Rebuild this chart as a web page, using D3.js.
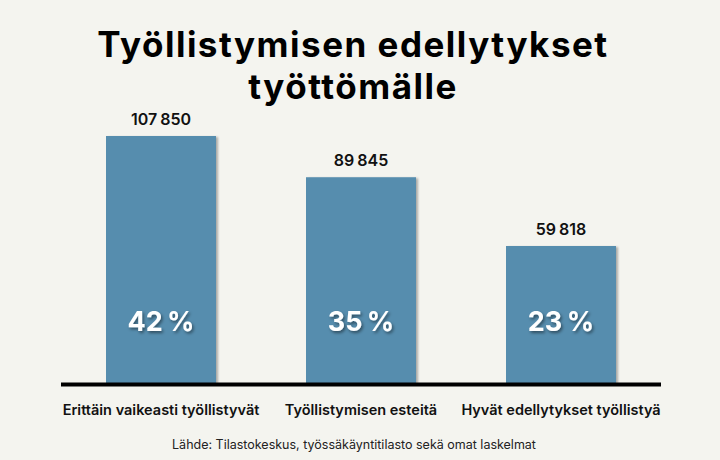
<!DOCTYPE html>
<html><head><meta charset="utf-8">
<script src="https://cdn.jsdelivr.net/npm/d3@7"></script>
<style>
html,body{margin:0;padding:0;background:#f4f4ef;}
svg{display:block;}
text{font-family:Inter,"Open Sans",sans-serif;}
</style></head>
<body><svg id="c" width="720" height="460"></svg>
<script>
const categories = ["Erittäin vaikeasti työllistyvät","Työllistymisen esteitä","Hyvät edellytykset työllistyä"];
const values = [107850, 89845, 59818];
const valueLabels = ["107 850","89 845","59 818"];
const shares = ["42 %","35 %","23 %"];
const titleLines = ["Työllistymisen edellytykset","työttömälle"];
const source = "Lähde: Tilastokeskus, työssäkäyntitilasto sekä omat laskelmat";

const svg = d3.select("#c");
const defs = svg.append("defs");
const f1 = defs.append("filter").attr("id","barShadow").attr("x","-10%").attr("y","-10%").attr("width","130%").attr("height","130%");
f1.append("feDropShadow").attr("dx",2).attr("dy",1).attr("stdDeviation",1.2).attr("flood-color","#000").attr("flood-opacity",0.3);
const f2 = defs.append("filter").attr("id","txtShadow").attr("x","-20%").attr("y","-20%").attr("width","140%").attr("height","160%");
f2.append("feDropShadow").attr("dx",1.5).attr("dy",2).attr("stdDeviation",1.5).attr("flood-color","#000").attr("flood-opacity",0.45);

const x = d3.scaleBand().domain(categories).range([61,661]).paddingInner(0.45).paddingOuter(0.225);
const y = d3.scaleLinear().domain([0,107850]).range([383,136]);

svg.selectAll("rect.bar").data(values).join("rect").attr("class","bar")
  .attr("x",(d,i)=>x(categories[i])).attr("width",x.bandwidth())
  .attr("y",d=>y(d)).attr("height",d=>y(0)-y(d))
  .attr("fill","#578dae").attr("filter","url(#barShadow)");

svg.selectAll("text.val").data(values).join("text").attr("class","val")
  .attr("x",(d,i)=>x(categories[i])+x.bandwidth()/2).attr("y",d=>y(d)-11)
  .attr("text-anchor","middle").attr("font-size",16).attr("font-weight",600).attr("fill","#111")
  .attr("word-spacing",-1).text((d,i)=>valueLabels[i]);

svg.selectAll("text.pct").data(shares).join("text").attr("class","pct")
  .attr("x",(d,i)=>x(categories[i])+x.bandwidth()/2).attr("y",331)
  .attr("text-anchor","middle").attr("font-size",27).attr("font-weight",700).attr("fill","#fff")
  .attr("word-spacing",-2).attr("filter","url(#txtShadow)").text(d=>d);

svg.append("line").attr("x1",61).attr("x2",661).attr("y1",y(0)+1.5).attr("y2",y(0)+1.5)
  .attr("stroke","#000").attr("stroke-width",4);

const xAxis = svg.append("g").attr("transform",`translate(0,${y(0)})`)
  .call(d3.axisBottom(x).tickSize(0).tickPadding(22));
xAxis.select(".domain").remove();
xAxis.selectAll("text").attr("font-size",14.5).attr("font-weight",600).attr("fill","#111")
  .style("font-family","Inter,sans-serif");

svg.selectAll("text.title").data(titleLines).join("text").attr("class","title")
  .attr("x",353).attr("y",(d,i)=>57+i*42).attr("text-anchor","middle")
  .attr("font-size",35).attr("font-weight",700).attr("letter-spacing",1.5).attr("fill","#000").text(d=>d);

svg.append("text").attr("x",354).attr("y",449).attr("text-anchor","middle")
  .attr("font-size",12.5).attr("fill","#222").text(source);
</script></body></html>
